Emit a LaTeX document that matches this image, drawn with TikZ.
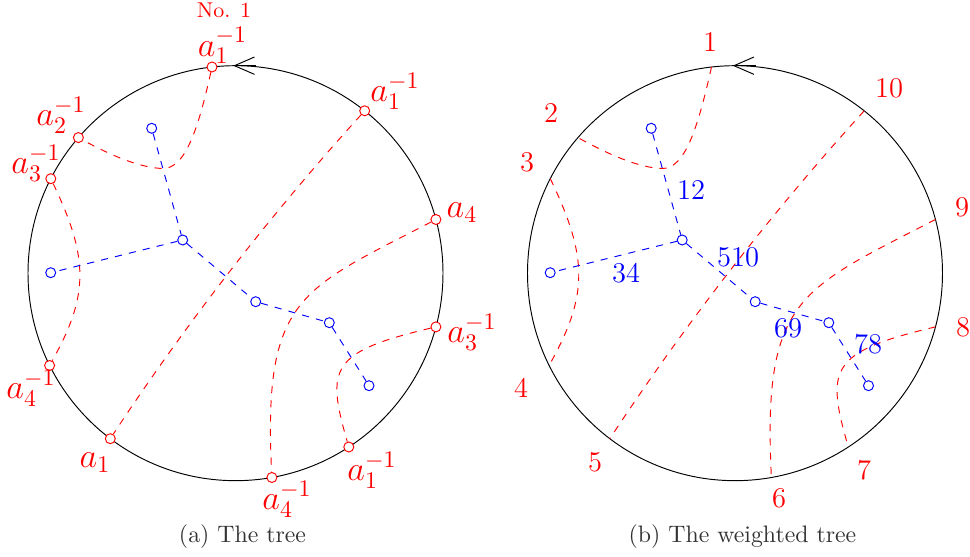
\documentclass[tikz,border=0pt]{standalone}
\usetikzlibrary{arrows.meta}
\begin{document}
\begin{tikzpicture}[x=0.42pt,y=-0.42pt,
  rdot/.style={circle,draw=red,fill=white,inner sep=0pt,minimum size=4.2pt},
  bdot/.style={circle,draw=blue,fill=white,inner sep=0pt,minimum size=4.2pt},
  redge/.style={red,dashed},
  bedge/.style={blue,dashed},
  alabel/.style={text=red,font=\Large,inner sep=0pt},
  nlabel/.style={text=red,font=\large,inner sep=0pt},
  wlabel/.style={text=blue,font=\large,inner sep=0pt},
  capt/.style={text=black!80,inner sep=0pt},
  orient/.style={-{Straight Barb[length=8.4pt,width=7.3pt]}}]
\useasboundingbox (0,0) rectangle (970,557);

% ---------- left: the tree ----------
\coordinate (LC) at (235.5,273.2);
\draw (LC) circle[radius=207.5];
\coordinate (LA0) at (256,65.7);
\coordinate (LA1) at (233.3,65.7);
\draw[orient] (LA0) -- (LA1);

\node[rdot] (L1) at (212,67) {};
\node[rdot] (L2) at (78.4,137.6) {};
\node[rdot] (L3) at (50.8,178.7) {};
\node[rdot] (L4) at (49.6,365.5) {};
\node[rdot] (L5) at (110.3,438.7) {};
\node[rdot] (L6) at (271.9,477.5) {};
\node[rdot] (L7) at (348.8,447) {};
\node[rdot] (L8) at (435.9,326.9) {};
\node[rdot] (L9) at (435.9,219.5) {};
\node[rdot] (L10) at (364.7,110.8) {};

\node[bdot] (LB1) at (151.7,128.3) {};
\node[bdot] (LB2) at (182.7,240) {};
\node[bdot] (LB3) at (50.7,272.7) {};
\node[bdot] (LB4) at (255.7,301.7) {};
\node[bdot] (LB5) at (329.3,322.7) {};
\node[bdot] (LB6) at (369,385.7) {};

\coordinate (LK) at (163,168.5);
\draw[redge] (L1) .. controls (198,130) and (185,168.5) .. (LK) .. controls (140,168) and (110,155) .. (L2);
\draw[redge] (L10) .. controls (271.4,213.5) and (186.6,322.8) .. (L5);
\draw[redge] (L9) .. controls (300,290) and (263,297) .. (L6);
\draw[redge] (L8) .. controls (330,352) and (326,368) .. (L7);
\draw[redge] (L3) .. controls (89.4,259) and (88.5,296) .. (L4);

\draw[bedge] (LB1) -- (LB2);
\draw[bedge] (LB2) -- (LB3);
\draw[bedge] (LB2) -- (LB4);
\draw[bedge] (LB4) -- (LB5);
\draw[bedge] (LB5) -- (LB6);

\node[text=red,font=\small,inner sep=0pt] (lno) at (224,10) {No. 1};
\node[alabel] (la1) at (222.5,45.5) {$a_1^{-1}$};
\node[alabel] (la10) at (395,91) {$a_1^{-1}$};
\node[alabel] (la2) at (61,115) {$a_2^{-1}$};
\node[alabel] (la3) at (36,163) {$a_3^{-1}$};
\node[alabel] (la9) at (462,213) {$a_4$};
\node[alabel] (la8) at (472,332) {$a_3^{-1}$};
\node[alabel] (la4) at (31,388) {$a_4^{-1}$};
\node[alabel] (la5) at (95,463) {$a_1$};
\node[alabel] (la6) at (287,499) {$a_4^{-1}$};
\node[alabel] (la7) at (372,470) {$a_1^{-1}$};
\node[capt] (capa) at (242.5,537) {(a) The tree};

% ---------- right: the weighted tree ----------
\coordinate (RC) at (735,273.2);
\draw (RC) circle[radius=207.5];
\coordinate (RA0) at (755.5,65.7);
\coordinate (RA1) at (732.8,65.7);
\draw[orient] (RA0) -- (RA1);

\coordinate (R1) at (711.5,67);
\coordinate (R2) at (577.9,137.6);
\coordinate (R3) at (550.3,178.7);
\coordinate (R4) at (549.1,365.5);
\coordinate (R5) at (609.8,438.7);
\coordinate (R6) at (771.4,477.5);
\coordinate (R7) at (848.3,447);
\coordinate (R8) at (935.4,326.9);
\coordinate (R9) at (935.4,219.5);
\coordinate (R10) at (864.2,110.8);

\node[bdot] (RB1) at (651.2,128.3) {};
\node[bdot] (RB2) at (682.2,240) {};
\node[bdot] (RB3) at (550.2,272.7) {};
\node[bdot] (RB4) at (755.2,301.7) {};
\node[bdot] (RB5) at (828.8,322.7) {};
\node[bdot] (RB6) at (868.5,385.7) {};

\coordinate (RK) at (662.5,168.5);
\draw[redge] (R1) .. controls (697.5,130) and (684.5,168.5) .. (RK) .. controls (639.5,168) and (609.5,155) .. (R2);
\draw[redge] (R10) .. controls (770.9,213.5) and (686.1,322.8) .. (R5);
\draw[redge] (R9) .. controls (799.5,290) and (762.5,297) .. (R6);
\draw[redge] (R8) .. controls (829.5,352) and (825.5,368) .. (R7);
\draw[redge] (R3) .. controls (588.9,259) and (588,296) .. (R4);

\draw[bedge] (RB1) -- (RB2);
\draw[bedge] (RB2) -- (RB3);
\draw[bedge] (RB2) -- (RB4);
\draw[bedge] (RB4) -- (RB5);
\draw[bedge] (RB5) -- (RB6);

\node[nlabel] (n1) at (710,42) {1};
\node[nlabel] (n10) at (889,88) {10};
\node[nlabel] (n2) at (551,113) {2};
\node[nlabel] (n3) at (527,162) {3};
\node[nlabel] (n9) at (962,207) {9};
\node[nlabel] (n8) at (963,327) {8};
\node[nlabel] (n4) at (521,388) {4};
\node[nlabel] (n5) at (595,462) {5};
\node[nlabel] (n6) at (779,498) {6};
\node[nlabel] (n7) at (864,470) {7};

\node[wlabel] (w12) at (691,190) {12};
\node[wlabel] (w510) at (738,257) {510};
\node[wlabel] (w34) at (626,273) {34};
\node[wlabel] (w69) at (788,328) {69};
\node[wlabel] (w78) at (868,344) {78};

\node[capt] (capb) at (742.5,537) {(b) The weighted tree};
\end{tikzpicture}
\end{document}
